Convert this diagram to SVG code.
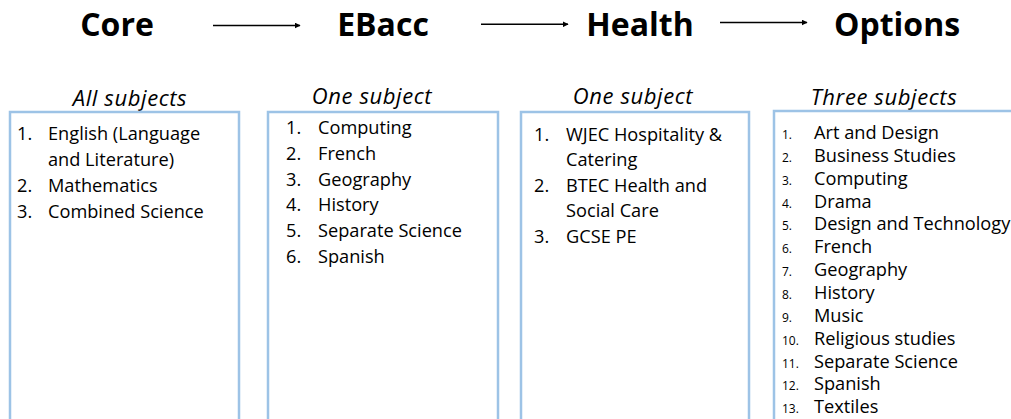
<svg xmlns="http://www.w3.org/2000/svg" width="1011" height="419" viewBox="0 0 1011 419">
<style>
.h{font-family:"Open Sans","Noto Sans",sans-serif;font-weight:bold;font-size:32px;fill:#000;text-anchor:middle}
.s{font-family:"Open Sans","Noto Sans",sans-serif;font-style:italic;font-size:22px;letter-spacing:0.6px;fill:#000;text-anchor:middle}
.t{font-family:"Open Sans","Noto Sans",sans-serif;font-size:18.2px;fill:#000}
.n{font-family:"Open Sans","Noto Sans",sans-serif;font-size:12px;fill:#000}
.box{fill:#fff;stroke:#9dc3e6;stroke-width:2.5}
.c{stroke:#000;stroke-width:1.5;fill:none;marker-end:url(#ah)}
</style>
<defs>
<marker id="ah" viewBox="0 0 10 10" refX="9" refY="5" markerWidth="6" markerHeight="6" orient="auto" markerUnits="userSpaceOnUse">
<path d="M0,0 L10,5 L0,10 z" fill="#000"/>
</marker>
</defs>
<rect width="1011" height="419" fill="#fff"/>
<g id="connectors">
<line class="c" x1="213" y1="25.5" x2="300" y2="25.5"/>
<line class="c" x1="481" y1="24.3" x2="568" y2="24.3"/>
<line class="c" x1="720" y1="22.5" x2="807" y2="22.5"/>
</g>
<g id="core">
<text class="h" x="117" y="36">Core</text>
<text class="s" x="130" y="106">All subjects</text>
<rect class="box" x="10" y="112" width="229" height="320"/>
<text class="t" x="17" y="140">1.</text><text class="t" x="48" y="140">English (Language</text>
<text class="t" x="48" y="165.7">and Literature)</text>
<text class="t" x="17" y="192">2.</text><text class="t" x="48" y="192">Mathematics</text>
<text class="t" x="17" y="217.5">3.</text><text class="t" x="48" y="217.5">Combined Science</text>
</g>
<g id="ebacc">
<text class="h" x="383" y="36">EBacc</text>
<text class="s" x="372" y="104">One subject</text>
<rect class="box" x="268" y="112" width="230" height="320"/>
<text class="t" x="286" y="134.3">1.</text><text class="t" x="318" y="134.3">Computing</text>
<text class="t" x="286" y="160">2.</text><text class="t" x="318" y="160">French</text>
<text class="t" x="286" y="185.7">3.</text><text class="t" x="318" y="185.7">Geography</text>
<text class="t" x="286" y="211.4">4.</text><text class="t" x="318" y="211.4">History</text>
<text class="t" x="286" y="237">5.</text><text class="t" x="318" y="237">Separate Science</text>
<text class="t" x="286" y="262.5">6.</text><text class="t" x="318" y="262.5">Spanish</text>
</g>
<g id="health">
<text class="h" x="640" y="36">Health</text>
<text class="s" x="633" y="104">One subject</text>
<rect class="box" x="521" y="112" width="228" height="320"/>
<text class="t" x="534" y="140.7">1.</text><text class="t" x="566" y="140.7">WJEC Hospitality &amp;</text>
<text class="t" x="566" y="166">Catering</text>
<text class="t" x="534" y="191.7">2.</text><text class="t" x="566" y="191.7">BTEC Health and</text>
<text class="t" x="566" y="217">Social Care</text>
<text class="t" x="534" y="242.5">3.</text><text class="t" x="566" y="242.5">GCSE PE</text>
</g>
<g id="options">
<text class="h" x="897" y="36">Options</text>
<text class="s" x="884" y="105">Three subjects</text>
<rect class="box" x="774" y="111" width="260" height="320"/>
<text class="n" x="782" y="139">1.</text><text class="t" x="814" y="139">Art and Design</text>
<text class="n" x="782" y="161.8">2.</text><text class="t" x="814" y="161.8">Business Studies</text>
<text class="n" x="782" y="184.7">3.</text><text class="t" x="814" y="184.7">Computing</text>
<text class="n" x="782" y="207.5">4.</text><text class="t" x="814" y="207.5">Drama</text>
<text class="n" x="782" y="230.4">5.</text><text class="t" x="814" y="230.4">Design and Technology</text>
<text class="n" x="782" y="253.2">6.</text><text class="t" x="814" y="253.2">French</text>
<text class="n" x="782" y="276.1">7.</text><text class="t" x="814" y="276.1">Geography</text>
<text class="n" x="782" y="298.9">8.</text><text class="t" x="814" y="298.9">History</text>
<text class="n" x="782" y="321.8">9.</text><text class="t" x="814" y="321.8">Music</text>
<text class="n" x="782" y="344.6">10.</text><text class="t" x="814" y="344.6">Religious studies</text>
<text class="n" x="782" y="367.5">11.</text><text class="t" x="814" y="367.5">Separate Science</text>
<text class="n" x="782" y="390.3">12.</text><text class="t" x="814" y="390.3">Spanish</text>
<text class="n" x="782" y="413.2">13.</text><text class="t" x="814" y="413.2">Textiles</text>
</g>
</svg>
